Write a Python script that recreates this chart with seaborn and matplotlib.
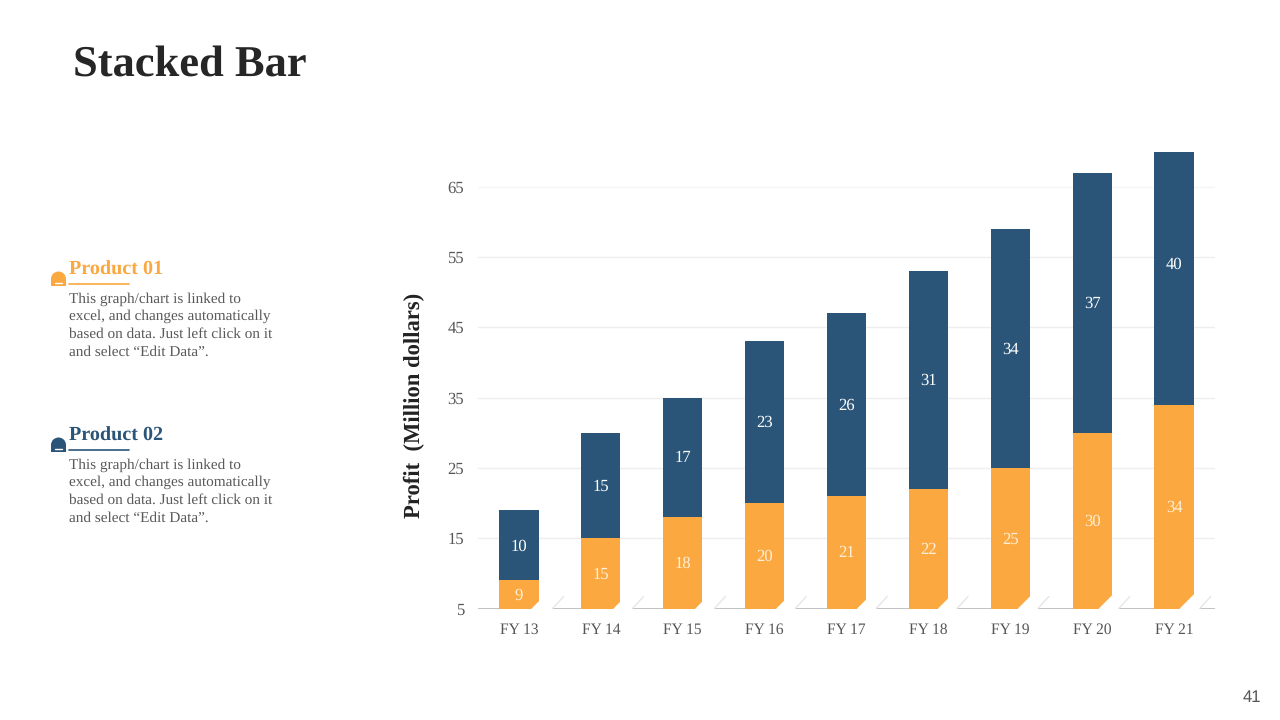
import pandas as pd
import seaborn as sns
import matplotlib.pyplot as plt
from matplotlib.patches import Polygon, Wedge, Rectangle

years = ['FY 13', 'FY 14', 'FY 15', 'FY 16', 'FY 17', 'FY 18', 'FY 19', 'FY 20', 'FY 21']
product_01 = [9, 15, 18, 20, 21, 22, 25, 30, 34]
product_02 = [10, 15, 17, 23, 26, 31, 34, 37, 40]
y_ticks = [5, 15, 25, 35, 45, 55, 65]
body_lines = ['This graph/chart is linked to',
              'excel, and changes automatically',
              'based on data. Just left click on it',
              'and select \u201cEdit Data\u201d.']

# fold at the foot of each orange bar, in pixels
fold_size = [7, 7, 7, 8, 9, 10, 12, 13, 14]
fold_gap = [14, 12, 12, 11, 10, 9, 8, 7, 6]

ORANGE = '#FBA840'
NAVY = '#2A5578'
SERIF = 'Liberation Serif'
W, H = 1280, 720

sns.set_theme(style='white')
plt.rcParams['font.family'] = [SERIF, 'DejaVu Serif']
plt.rcParams['text.hinting'] = 'none'
plt.rcParams['text.hinting_factor'] = 8

data = pd.DataFrame({'year': years, 'p1': product_01, 'p2': product_02})
data['total'] = data.p1 + data.p2

fig = plt.figure(figsize=(12.8, 7.2), dpi=100, facecolor='white')
ax = fig.add_axes([478 / W, 1 - 608.5 / H, 737 / W, 457 / H])

# totals first, orange on top gives the stack
sns.barplot(data=data, x='year', y='total', color=NAVY, saturation=1, width=0.48, linewidth=0, ax=ax, zorder=3)
n_navy = len(ax.patches)
sns.barplot(data=data, x='year', y='p1', color=ORANGE, saturation=1, width=0.48, linewidth=0, ax=ax, zorder=3)
ax.set_xlim(-0.5, 8.5)
ax.set_ylim(5, 70)
ax.set_yticks(y_ticks)
ax.set_xlabel('')
ax.set_ylabel('')
sns.despine(ax=ax, left=True, bottom=True)
ax.tick_params(axis='x', length=0, labelsize=11.2, labelcolor='#555555', pad=18)
ax.tick_params(axis='y', length=0, labelsize=12, labelcolor='#555555', pad=10)
# baseline alignment, otherwise the labels jump by a pixel
for lab in ax.get_xticklabels():
    lab.set_verticalalignment('baseline')
for v in y_ticks[1:]:
    ax.axhline(v, color='#EEEEEE' if v < 65 else '#F5F5F5', lw=1, zorder=1)
ax.axhline(5, color='#BDBDBD', lw=1.3, zorder=2)

# data labels
for i, row in data.iterrows():
    ax.text(i, (max(row.p1, 5) + 5) / 2 - 0.15, str(row.p1), ha='center', va='center', color='#FFF0D8', fontsize=12, zorder=5)
    ax.text(i, row.p1 + row.p2 / 2 - 0.15, str(row.p2), ha='center', va='center', color='white', fontsize=12, zorder=5)

# white corner folds cut out of the orange bars
px_x = 737 / 9
px_y = 457 / 65
for i, bar in enumerate(ax.patches[n_navy:]):
    right = bar.get_x() + bar.get_width()
    s = fold_size[i]
    g = fold_gap[i]
    ax.add_patch(Polygon([(right - s / px_x, 5), (right, 5 + s / px_y), (right + g / px_x, 5 + s / px_y),
                          (right + g / px_x, 5 - 1 / px_y), (right - s / px_x, 5 - 1 / px_y)],
                         closed=True, fc='white', ec='none', zorder=4, clip_on=False))
    ax.plot([right + g / px_x, right + (g + 11) / px_x], [5, 5 + 12 / px_y], color='#E6E6E6', lw=1, zorder=4)

fig.text(414 / W, 1 - 405 / H, 'Profit  (Million dollars)', rotation=90, ha='center', va='center',
         fontsize=16.3, fontweight='bold', color='#222222')
fig.text(73 / W, 1 - 65 / H, 'Stacked Bar', ha='left', va='center', fontsize=32, fontweight='bold', color='#262626')
fig.text(1252 / W, 1 - 698 / H, '41', ha='center', va='center', fontsize=12, color='#555555', family='Liberation Sans')

# left column, drawn in pixel coordinates
overlay = fig.add_axes([0, 0, 1, 1], facecolor='none')
overlay.set_xlim(0, W)
overlay.set_ylim(H, 0)
overlay.axis('off')
for name, color, top in [('Product 01', ORANGE, 270), ('Product 02', NAVY, 436)]:
    overlay.text(69, top, name, ha='left', va='center', fontsize=14.5, fontweight='bold', color=color)
    overlay.plot([69, 129], [top + 13.5, top + 13.5], color=color, lw=1.2)
    overlay.add_patch(Wedge((58.5, top + 9), 7.5, 180, 360, fc=color, ec='none'))
    overlay.add_patch(Rectangle((51, top + 9), 15, 7, fc=color, ec='none'))
    overlay.plot([55, 62], [top + 13, top + 13], color='white', lw=1)
    for j, line in enumerate(body_lines):
        overlay.text(69, top + 29 + j * 17.6, line, ha='left', va='center', fontsize=11, color='#595959')

fig.savefig('out.png', dpi=100)
